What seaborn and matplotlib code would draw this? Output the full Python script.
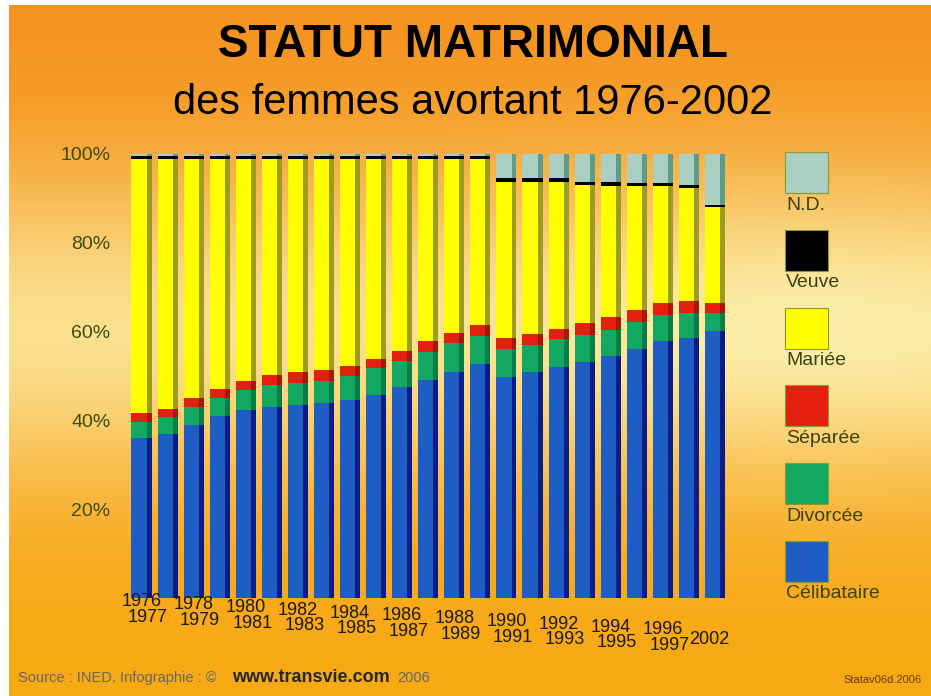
import numpy as np
import matplotlib
matplotlib.use("Agg")
import matplotlib.pyplot as plt
from matplotlib.patches import Rectangle
import seaborn as sns

# donnees (en %)
years = ["1976", "1977", "1978", "1979", "1980", "1981", "1982", "1983", "1984",
         "1985", "1986", "1987", "1988", "1989", "1990", "1991", "1992", "1993",
         "1994", "1995", "1996", "1997", "2002"]
celibataire = [36.0, 36.9, 38.9, 40.9, 42.3, 43.1, 43.4, 43.9, 44.6, 45.8, 47.6, 49.2,
               51.0, 52.8, 49.8, 50.9, 52.1, 53.2, 54.5, 56.1, 57.9, 58.5, 60.1]
divorcee = [3.7, 3.8, 4.1, 4.2, 4.6, 4.9, 5.1, 5.0, 5.4, 5.9, 5.8, 6.3,
            6.5, 6.2, 6.2, 6.0, 6.2, 6.1, 5.9, 6.0, 5.9, 5.8, 4.0]
separee = [1.9, 1.9, 2.0, 1.9, 2.0, 2.3, 2.3, 2.4, 2.2, 2.2, 2.3, 2.3,
           2.2, 2.4, 2.6, 2.6, 2.3, 2.6, 2.8, 2.8, 2.6, 2.5, 2.3]
mariee = [57.3, 56.3, 53.9, 51.9, 50.0, 48.6, 48.1, 47.6, 46.7, 45.0, 43.2, 41.1,
          39.2, 37.5, 35.2, 34.3, 33.2, 31.2, 29.7, 27.9, 26.4, 25.6, 21.6]
veuve = [0.6] * 14 + [0.7] * 8 + [0.6]
nd = [0.5] * 14 + [5.5, 5.5, 5.5, 6.2, 6.4, 6.5, 6.5, 6.9, 11.4]

labels = ["N.D.", "Veuve", "Mariée", "Séparée", "Divorcée", "Célibataire"]
series = [nd, veuve, mariee, separee, divorcee, celibataire]
face_colors = ["#A9CFC3", "#000000", "#FFFF00", "#E3200F", "#12A862", "#1E5EC4"]
side_colors = ["#5E9C8A", "#000000", "#9C9C22", "#A8180A", "#0A7C46", "#0C1C86"]

W, H = 931, 696
sns.set_style("white")
plt.rcParams["font.family"] = ["Liberation Sans", "DejaVu Sans"]

fig = plt.figure(figsize=(W / 100, H / 100), dpi=100)
fig.patch.set_facecolor("white")

# fond degrade : orange en haut et en bas, jaune pale au milieu
bg = fig.add_axes([9 / W, 0, 1 - 9 / W, 1 - 5 / H], zorder=-5)
yy, xx = np.mgrid[0:1:300j, 0:1:400j]
b = np.exp(-((yy - 0.47) / 0.23) ** 2) * (0.82 + 0.18 * np.exp(-((xx - 0.87) / 0.3) ** 2))
orange_top = np.array([245, 146, 30]) / 255
orange_bot = np.array([248, 170, 18]) / 255
light = np.array([252, 238, 170]) / 255
orange = orange_top + yy[..., None] * (orange_bot - orange_top)
img = orange + b[..., None] * (light - orange)
bg.imshow(img, aspect="auto", extent=[0, 1, 0, 1], origin="upper")
bg.axis("off")

# zone du graphique : 0 % a y=598 px, 100 % a y=154 px
left, right = 128.5, 728
ax = fig.add_axes([left / W, 1 - 598 / H, (right - left) / W, (598 - 154) / H])
ax.patch.set_alpha(0)

pos = np.arange(len(years))
cum = np.zeros(len(years))
stacks = []
for s in series[::-1]:
    cum = cum + np.array(s)
    stacks.append(cum.copy())
stacks = stacks[::-1]  # du sommet vers le bas

for top, face, side in zip(stacks, face_colors, side_colors):
    sns.barplot(x=pos, y=top, native_scale=True, width=0.77, color=side,
                saturation=1, errorbar=None, linewidth=0, ax=ax)
    sns.barplot(x=pos - 0.095, y=top, native_scale=True, width=0.58, color=face,
                saturation=1, errorbar=None, linewidth=0, ax=ax)

ax.set_xlim(-0.5, len(years) - 0.5)
ax.set_ylim(0, 100)
ax.set_yticks([20, 40, 60, 80, 100])
ax.set_yticklabels(["20%", "40%", "60%", "80%", "100%"], fontsize=14, color="#3E4A10")
ax.tick_params(axis="y", length=0, pad=13)
ax.set_xticks([])
ax.set_xlabel("")
ax.set_ylabel("")
for sp in ax.spines.values():
    sp.set_visible(False)

# etiquettes des annees en deux rangees, legerement descendantes
px = 100 / (598 - 154)
for i, yr in enumerate(years):
    y_px = 602 + i * 1.4
    dx = 0.0
    if i % 2 == 1:
        y_px += 14
        dx = -0.75
    if yr == "2002":
        y_px += 7
        dx = -0.22
    ax.text(i + dx, -(y_px - 598) * px, yr, ha="center", va="center",
            fontsize=13, color="#1A1A1A", clip_on=False)

# titres
fig.text(473 / W, 1 - 45 / H, "STATUT MATRIMONIAL", ha="center", va="center",
         fontsize=33, fontweight="bold", color="black")
fig.text(473 / W, 1 - 103 / H, "des femmes avortant 1976-2002", ha="center",
         va="center", fontsize=30, color="black")

# legende
for k, (lab, face) in enumerate(zip(labels, face_colors)):
    y0 = 152 + k * 77.8
    fig.add_artist(Rectangle((785 / W, 1 - (y0 + 41) / H), 43 / W, 41 / H,
                             transform=fig.transFigure, facecolor=face,
                             edgecolor="#8A9A30", linewidth=0.8))
    fig.text(786 / W, 1 - (y0 + 53) / H, lab, ha="left", va="center",
             fontsize=14, color="#3A4212")

# pied de page
fig.text(18 / W, 1 - 678 / H, "Source : INED. Infographie : ©", ha="left",
         va="center", fontsize=10.5, color="#666666")
fig.text(232 / W, 1 - 677 / H, "www.transvie.com", ha="left", va="center",
         fontsize=13, fontweight="bold", color="#262626")
fig.text(397 / W, 1 - 678 / H, "2006", ha="left", va="center",
         fontsize=10.5, color="#666666")
fig.text(922 / W, 1 - 680 / H, "Statav06d.2006", ha="right", va="center",
         fontsize=8, color="#6A3A10")

fig.savefig("out.png", dpi=100)
